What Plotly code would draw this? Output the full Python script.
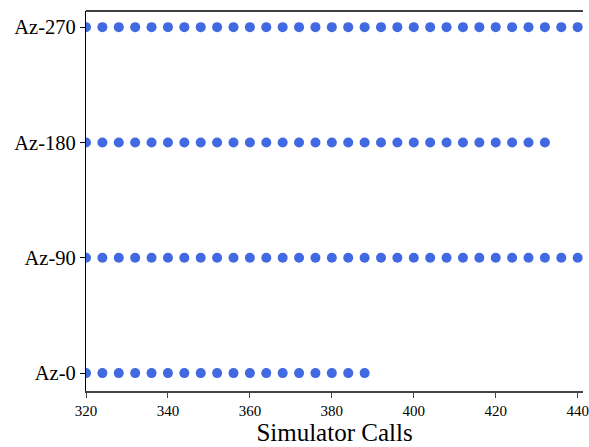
import plotly.graph_objects as go

categories = ["Az-0", "Az-90", "Az-180", "Az-270"]
calls_az0 = list(range(320, 389, 4))
calls_az90 = list(range(320, 445, 4))
calls_az180 = list(range(320, 433, 4))
calls_az270 = list(range(320, 445, 4))
series = [calls_az0, calls_az90, calls_az180, calls_az270]
x_ticks = [320, 340, 360, 380, 400, 420, 440]

fig = go.Figure()
for i, (cat, xs) in enumerate(zip(categories, series)):
    fig.add_trace(go.Scatter(
        x=xs, y=[i] * len(xs), mode="markers",
        marker=dict(size=10, color="#4169E1", line=dict(width=0)),
        showlegend=False, cliponaxis=True,
    ))

font_family = "Liberation Serif, DejaVu Serif, serif"
fig.update_layout(
    width=589, height=447,
    margin=dict(l=86, r=0, t=11, b=56),
    paper_bgcolor="white", plot_bgcolor="white",
    font=dict(family=font_family, color="black"),
    xaxis=dict(
        range=[320, 441.3], tickvals=x_ticks, ticktext=[str(v) for v in x_ticks],
        showgrid=False, zeroline=False, showline=True, linecolor="#444", linewidth=2,
        ticks="outside", ticklen=5, tickcolor="#444", tickwidth=1,
        tickfont=dict(size=15, family=font_family), ticklabeloverflow="allow",
        title=dict(text="Simulator Calls", font=dict(size=25, family=font_family), standoff=4),
    ),
    yaxis=dict(
        range=[-0.155, 3.14], tickvals=[0, 1, 2, 3], ticktext=categories,
        showgrid=False, zeroline=False, showline=True, linecolor="black", linewidth=1.3,
        ticks="outside", ticklen=5, tickcolor="black", tickwidth=1,
        tickfont=dict(size=20.5, family=font_family),
    ),
    shapes=[dict(type="line", xref="paper", yref="paper", x0=0, x1=1, y0=1, y1=1,
                 line=dict(color="black", width=1.3))],
)
fig.write_html(
    "out.html",
    config={"displayModeBar": False},
    post_script="document.body.style.margin='0';document.body.style.padding='0';document.body.style.overflow='hidden';",
)
